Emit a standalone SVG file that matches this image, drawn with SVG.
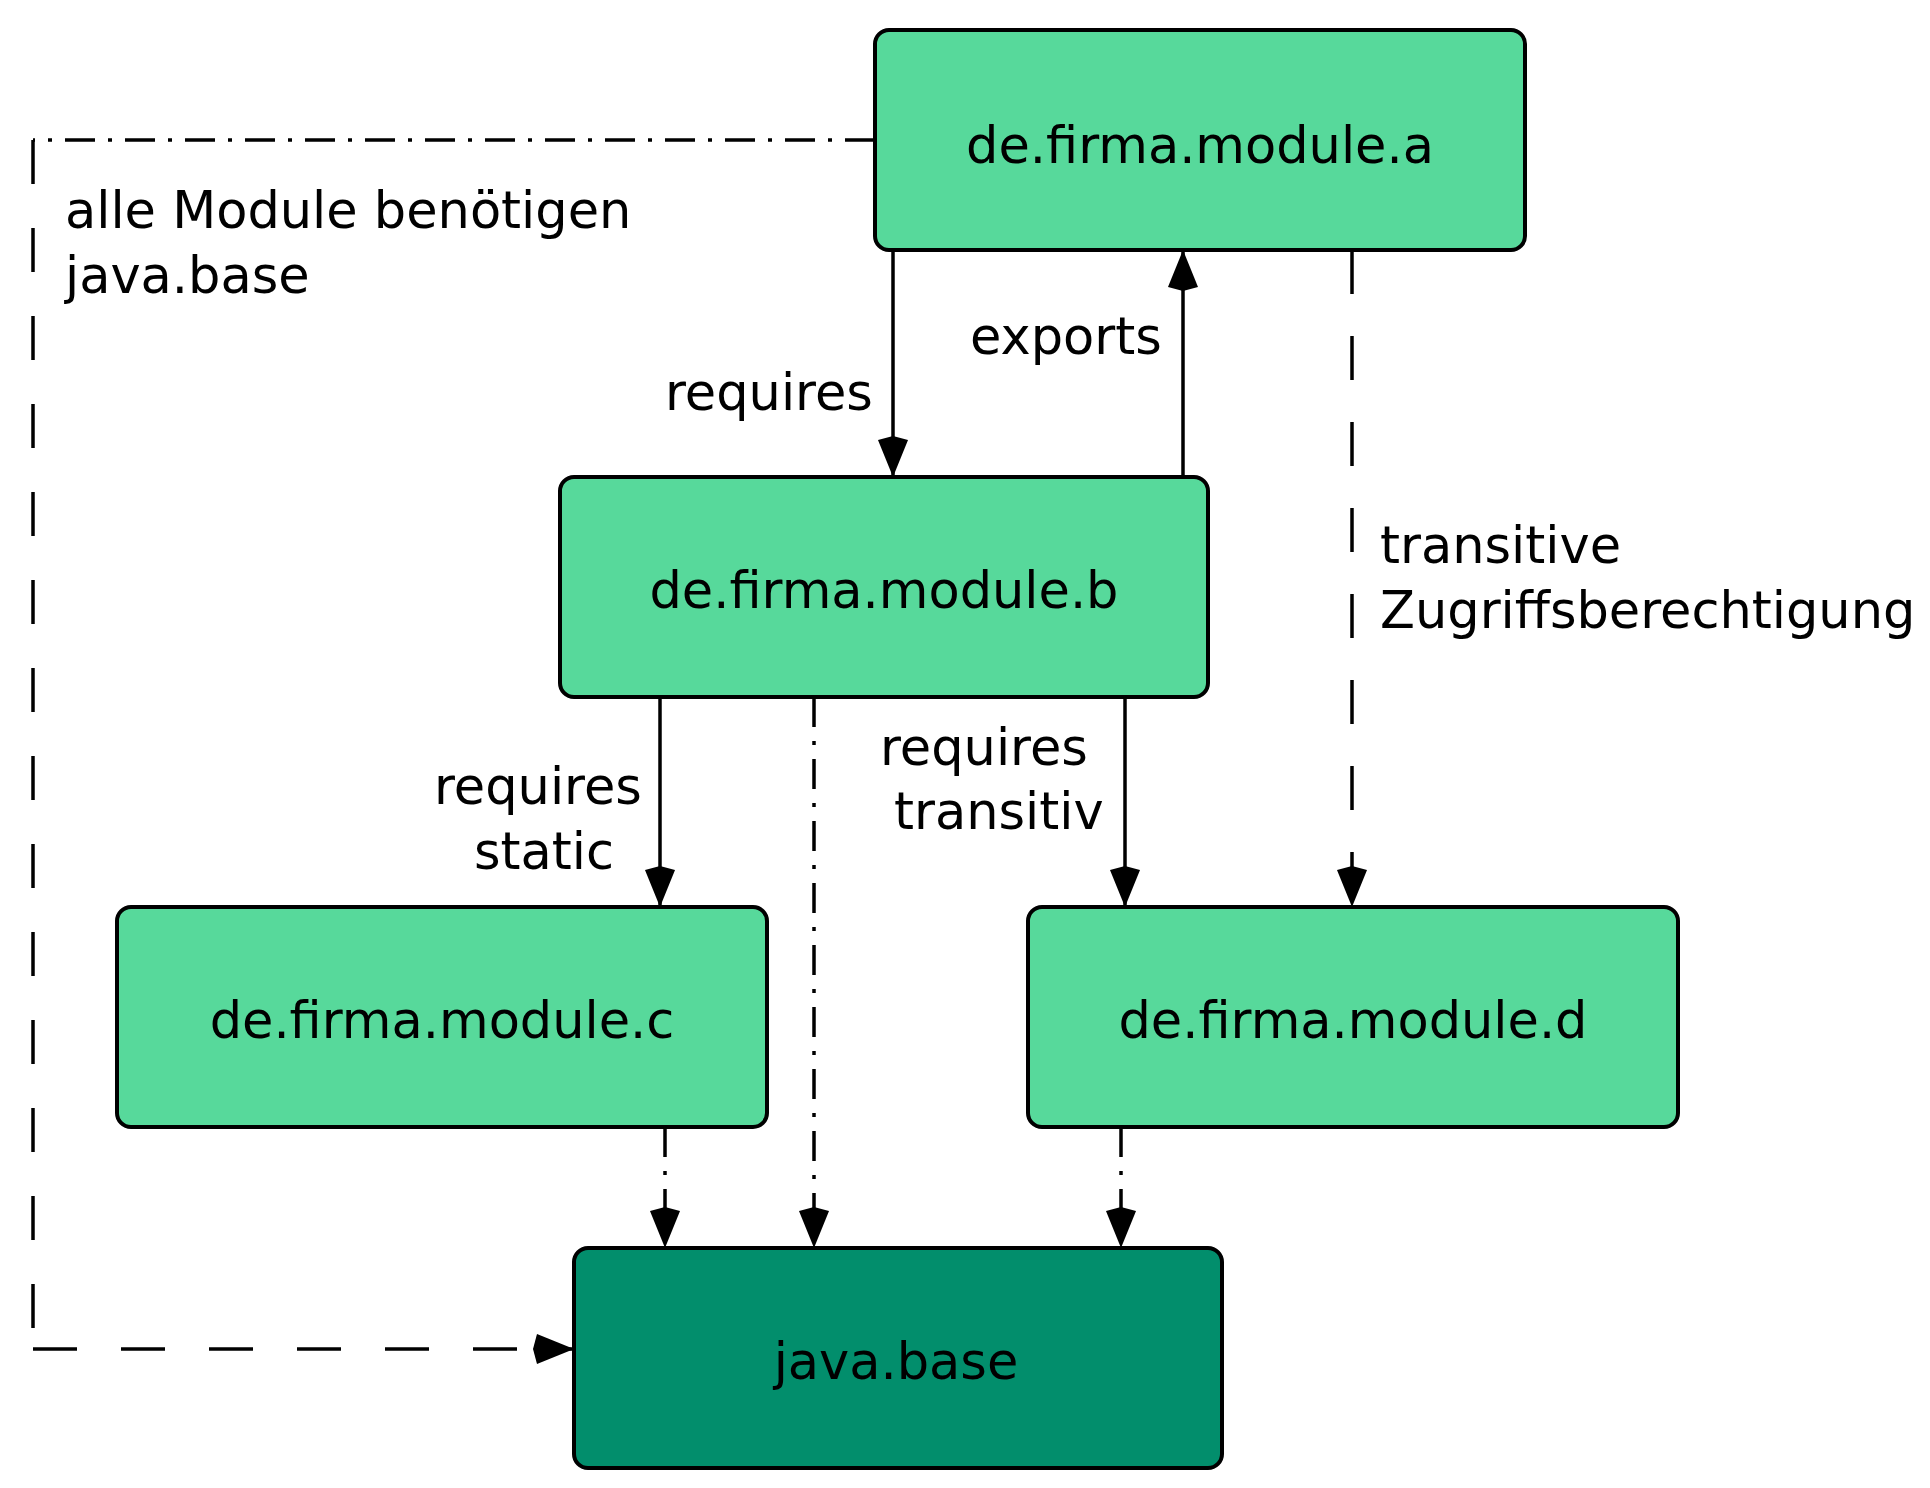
<svg xmlns="http://www.w3.org/2000/svg" width="1930" height="1488" viewBox="0 0 1930 1488">
<style>
.node{fill:#57d99b;stroke:#000;stroke-width:4}
.dark{fill:#028e6c;stroke:#000;stroke-width:4}
.t{font-family:"DejaVu Sans",sans-serif;font-size:51px;fill:#000}
.mid{text-anchor:middle}
.ln{fill:none;stroke:#000;stroke-width:3.5}
.dd{stroke-dasharray:30 14 4 14}
.ds{stroke-dasharray:44 44}
</style>
<defs>
<marker id="arr" markerUnits="userSpaceOnUse" markerWidth="44" markerHeight="36" viewBox="-42 -18 44 36" refX="0" refY="0" orient="auto">
<path d="M0,0 L-37,-15 L-41,0 L-37,15 Z" fill="#000"/>
</marker>
</defs>
<g id="connectors">
<path class="ln" d="M893,250 V477" marker-end="url(#arr)"/>
<path class="ln" d="M1183,477 V250" marker-end="url(#arr)"/>
<path class="ln" style="stroke-dasharray:44 42" d="M1352,250 V907" marker-end="url(#arr)"/>
<path class="ln" d="M660,697 V907" marker-end="url(#arr)"/>
<path class="ln" d="M1125,697 V907" marker-end="url(#arr)"/>
<path class="ln dd" d="M814,697 V1248" marker-end="url(#arr)"/>
<path class="ln dd" d="M665,1127 V1248" marker-end="url(#arr)"/>
<path class="ln dd" d="M1121,1127 V1248" marker-end="url(#arr)"/>
<path class="ln" style="stroke-dasharray:30 13 4 13" d="M875,140 H33"/>
<path class="ln ds" d="M33,140 V1349"/>
<path class="ln ds" d="M33,1349 H574" marker-end="url(#arr)"/>
<text class="t" x="665" y="410">requires</text>
<text class="t" x="970" y="354">exports</text>
<text class="t" x="1380" y="563">transitive</text>
<text class="t" x="1380" y="628">Zugriffsberechtigung</text>
<text class="t" x="434" y="804">requires</text>
<text class="t" x="474" y="869">static</text>
<text class="t" x="880" y="765">requires</text>
<text class="t" x="894" y="829">transitiv</text>
<text class="t" x="65" y="228">alle Module benötigen</text>
<text class="t" x="65" y="293">java.base</text>
</g>
<g id="node-a">
<rect class="node" x="875" y="30" width="650" height="220" rx="14"/>
<text class="t mid" x="1200" y="163">de.firma.module.a</text>
</g>
<g id="node-b">
<rect class="node" x="560" y="477" width="648" height="220" rx="14"/>
<text class="t mid" x="884" y="608">de.firma.module.b</text>
</g>
<g id="node-c">
<rect class="node" x="117" y="907" width="650" height="220" rx="14"/>
<text class="t mid" x="442" y="1038">de.firma.module.c</text>
</g>
<g id="node-d">
<rect class="node" x="1028" y="907" width="650" height="220" rx="14"/>
<text class="t mid" x="1353" y="1038">de.firma.module.d</text>
</g>
<g id="node-java-base">
<rect class="dark" x="574" y="1248" width="648" height="220" rx="14"/>
<text class="t mid" x="896" y="1379">java.base</text>
</g>
</svg>
